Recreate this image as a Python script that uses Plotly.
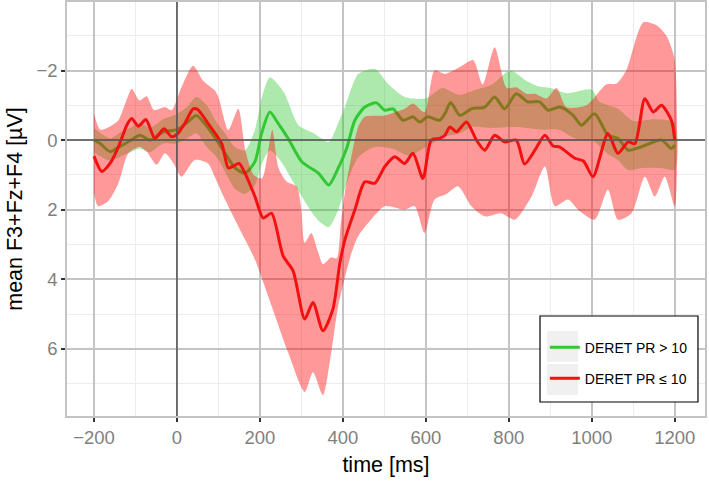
import plotly.graph_objects as go

# ---- data (time in ms, amplitude in µV) ----
# group "DERET PR > 10" (green)
green_t = [-200, -185, -161, -140, -113, -89, -65, -33, 0, 24, 47, 72, 96, 116, 140, 164, 188, 204, 224, 244,
           268, 301, 341, 366, 389, 409, 429, 453, 481, 501, 521, 545, 569, 585, 605, 633, 646, 660, 682, 710,
           742, 766, 790, 818, 846, 874, 895, 923, 955, 975, 1007, 1039, 1063, 1088, 1120, 1168, 1192, 1200]
green_mean = [0.0, 0.1, 0.33, 0.2, 0.02, -0.14, 0.0, -0.24, -0.3, -0.5, -0.71, -0.4, 0.0, 0.38, 0.8, 0.95, 0.62, -0.19, -0.81, -0.48,
              -0.05, 0.62, 0.95, 1.29, 0.8, 0.24, -0.57, -0.95, -1.07, -0.86, -0.9, -0.57, -0.67, -0.52, -0.67, -0.57, -0.76, -1.08, -0.71, -0.9,
              -0.95, -1.24, -0.9, -1.33, -1.1, -1.1, -0.86, -0.95, -0.71, -0.43, -0.76, -0.14, -0.05, 0.29, 0.19, 0.0, 0.24, 0.14]

green_up_t = [-200, -161, -140, -113, -89, -65, -33, 0, 24, 47, 72, 96, 116, 140, 164, 188, 204, 224, 244, 260,
              293, 330, 366, 389, 405, 437, 477, 509, 549, 600, 640, 680, 720, 760, 803, 843, 870, 900, 940, 1000,
              1019, 1063, 1100, 1150, 1200]
green_up = [-0.35, -0.05, -0.2, -0.35, -0.5, -0.35, -0.6, -0.75, -0.95, -1.25, -1.0, -0.5, -0.2, 0.2, 0.3, -0.3, -1.2, -1.81, -1.6, -1.33,
            -0.43, -0.2, 0.05, -0.5, -0.95, -1.9, -2.05, -1.62, -1.24, -1.2, -1.5, -1.3, -1.45, -1.6, -2.0, -1.7, -1.55, -1.5, -1.35, -1.45,
            -1.1, -0.9, -0.55, -0.6, -0.5]

green_lo_t = [-200, -161, -140, -113, -89, -65, -33, 0, 24, 47, 72, 96, 116, 140, 164, 188, 204, 224, 250, 280,
              310, 340, 366, 389, 405, 437, 477, 520, 560, 600, 646, 682, 710, 760, 820, 880, 920, 960, 1000, 1039,
              1063, 1088, 1120, 1168, 1200]
green_lo = [0.35, 0.6, 0.5, 0.35, 0.25, 0.35, 0.1, 0.1, -0.05, -0.2, 0.2, 0.5, 0.9, 1.4, 1.55, 1.3, 0.7, 0.3, 0.6, 1.2,
            1.8, 2.3, 2.5, 2.0, 1.4, 0.5, 0.2, 0.25, 0.45, 0.2, -0.1, -0.19, -0.38, -0.35, -0.38, -0.3, -0.3, -0.05, 0.0, 0.4,
            0.57, 0.86, 0.8, 0.8, 0.85]

# group "DERET PR ≤ 10" (red)
red_t = [-200, -181, -160, -141, -120, -109, -93, -75, -53, -31, -13, 2, 20, 39, 50, 75, 108, 124, 140, 150,
         164, 188, 208, 228, 256, 280, 308, 328, 352, 376, 393, 405, 429, 453, 477, 501, 525, 549, 569, 593,
         613, 633, 646, 658, 674, 698, 722, 742, 766, 790, 818, 838, 863, 887, 907, 923, 959, 980, 1003, 1039,
         1063, 1088, 1104, 1128, 1148, 1168, 1192, 1200]
red_mean = [0.46, 0.9, 0.65, 0.19, -0.45, -0.62, -0.4, -0.59, -0.05, -0.33, -0.1, -0.19, -0.5, -0.9, -0.88, -0.48, 0.1, 0.8, 0.72, 0.67,
            0.95, 1.62, 2.24, 2.1, 3.33, 3.76, 5.14, 4.67, 5.48, 4.86, 3.52, 2.86, 2.0, 1.2, 1.24, 0.76, 0.48, 0.67, 0.38, 1.1,
            0.0, -0.05, -0.14, -0.38, -0.24, -0.52, 0.0, 0.29, -0.14, 0.05, 0.0, 0.69, 0.29, -0.14, 0.17, 0.2, 0.52, 0.6, 1.05, -0.19,
            0.38, 0.05, 0.1, -1.19, -0.81, -1.0, -0.57, 0.0]

red_up_t = [-200, -185, -160, -141, -120, -109, -90, -73, -55, -29, -13, 11, 39, 63, 91, 100, 124, 148, 165, 185,
            205, 220, 230, 245, 265, 289, 300, 308, 324, 340, 352, 372, 385, 395, 405, 420, 437, 453, 501, 549,
            569, 597, 621, 646, 682, 714, 737, 766, 795, 818, 843, 863, 891, 915, 939, 987, 1035, 1059, 1083, 1124,
            1156, 1180, 1200]
red_up = [-0.77, -0.3, -0.4, -0.57, -1.2, -1.48, -1.14, -1.26, -0.86, -0.95, -0.86, -1.52, -2.14, -1.71, -1.43, -1.24, -0.29, -0.9, 0.3, 1.0,
          1.1, 0.3, -0.3, 0.8, 1.2, 1.34, 2.0, 2.95, 2.67, 3.2, 3.57, 3.37, 3.4, 2.4, 1.5, 0.5, -0.38, -0.67, -0.71, -0.9,
          -1.05, -0.8, -2.0, -1.9, -2.1, -2.3, -1.6, -2.67, -1.5, -1.52, -1.33, -1.33, -1.2, -1.5, -0.95, -1.0, -1.6, -1.62, -2.0, -3.38,
          -3.3, -3.0, -2.3]

red_lo_t = [-200, -190, -166, -141, -117, -90, -73, -49, -29, -8, 11, 43, 75, 91, 116, 148, 188, 228, 268, 308,
            328, 352, 372, 389, 421, 437, 460, 501, 549, 573, 597, 621, 650, 678, 710, 742, 782, 814, 855, 887,
            911, 943, 967, 1007, 1039, 1063, 1096, 1128, 1152, 1176, 1200]
red_lo = [1.52, 1.9, 1.76, 1.24, 0.38, 0.19, 0.33, 0.71, 0.38, 0.67, 1.05, 0.57, 0.67, 1.05, 1.71, 2.48, 3.43, 4.76, 6.1, 7.24,
          6.67, 7.33, 6.1, 4.76, 3.24, 2.76, 2.4, 1.9, 2.0, 1.9, 2.67, 1.71, 1.55, 1.33, 1.9, 2.19, 2.1, 2.29, 1.62, 0.76,
          1.9, 1.71, 2.0, 2.29, 1.43, 2.29, 2.1, 1.05, 1.62, 1.05, 1.9]

GREEN = "#33c733"
RED = "#f21010"
FONT = "Liberation Sans, Arial, sans-serif"

fig = go.Figure()


def ribbon(t_up, up, t_lo, lo, color):
    return go.Scatter(x=t_up + t_lo[::-1], y=up + lo[::-1], fill="toself", fillcolor=color,
                      mode="lines", line=dict(width=0, shape="spline", smoothing=0.7),
                      hoverinfo="skip", showlegend=False)


fig.add_trace(ribbon(green_up_t, green_up, green_lo_t, green_lo, "rgba(51,199,51,0.4)"))
fig.add_trace(go.Scatter(x=green_t, y=green_mean, mode="lines", name="DERET PR > 10", legendgroup="g",
                         line=dict(color=GREEN, width=3, shape="spline", smoothing=0.7)))
fig.add_trace(ribbon(red_up_t, red_up, red_lo_t, red_lo, "rgba(255,0,0,0.4)"))
fig.add_trace(go.Scatter(x=red_t, y=red_mean, mode="lines", name="DERET PR ≤ 10", legendgroup="r",
                         line=dict(color=RED, width=3, shape="spline", smoothing=0.7)))

# zero reference lines on top of data
fig.add_shape(type="line", xref="x", yref="paper", x0=0, x1=0, y0=0, y1=1, layer="above",
              line=dict(color="#555555", width=1.5))
fig.add_shape(type="line", xref="paper", yref="y", x0=0, x1=1, y0=0, y1=0, layer="above",
              line=dict(color="#555555", width=1.5))

# legend box + grey key backgrounds (ggplot style)
fig.add_shape(type="rect", xref="paper", yref="paper", x0=0.7414, x1=0.989, y0=0.0338, y1=0.2415,
              layer="above", fillcolor="white", line=dict(color="black", width=1.2))
fig.add_shape(type="rect", xref="paper", yref="paper", x0=0.7524, x1=0.8009, y0=0.1304, y1=0.2053,
              layer="above", fillcolor="#f0f0f0", line=dict(width=0))
fig.add_shape(type="rect", xref="paper", yref="paper", x0=0.7524, x1=0.8009, y0=0.0507, y1=0.1256,
              layer="above", fillcolor="#f0f0f0", line=dict(width=0))

axis_common = dict(
    showline=True, mirror=True, linecolor="#c4c4c4", linewidth=1.5,
    showgrid=True, gridcolor="#c4c4c4", gridwidth=2, zeroline=False,
    ticks="outside", ticklen=4, tickwidth=1.5, tickcolor="#333333",
    tickfont=dict(family=FONT, size=18.5, color="#7f7f7f"), automargin=False,
)

fig.update_xaxes(range=[-265, 1273], tick0=0, dtick=200,
                 minor=dict(dtick=100, showgrid=True, gridcolor="#ececec", gridwidth=1),
                 title=dict(text="time [ms]", font=dict(family=FONT, size=21.5, color="black"), standoff=10),
                 **axis_common)
fig.update_yaxes(range=[7.93, -3.97], tick0=0, dtick=2,
                 minor=dict(dtick=1, showgrid=True, gridcolor="#ececec", gridwidth=1),
                 title=dict(text="mean F3+Fz+F4 [µV]", font=dict(family=FONT, size=21.5, color="black"), standoff=8),
                 **axis_common)

fig.update_layout(
    width=709, height=483,
    margin=dict(l=67, r=4, t=2, b=67),
    paper_bgcolor="white", plot_bgcolor="white",
    font=dict(family=FONT),
    legend=dict(x=0.749, y=0.204, xanchor="left", yanchor="top", bgcolor="rgba(0,0,0,0)",
                borderwidth=0, tracegroupgap=10, font=dict(family=FONT, size=14, color="black")),
)

# page body has a default 8px margin; drop it so the figure sits at the window corner
fig.write_html("out.html", config={"displayModeBar": False},
               post_script="document.body.style.margin='0';")
